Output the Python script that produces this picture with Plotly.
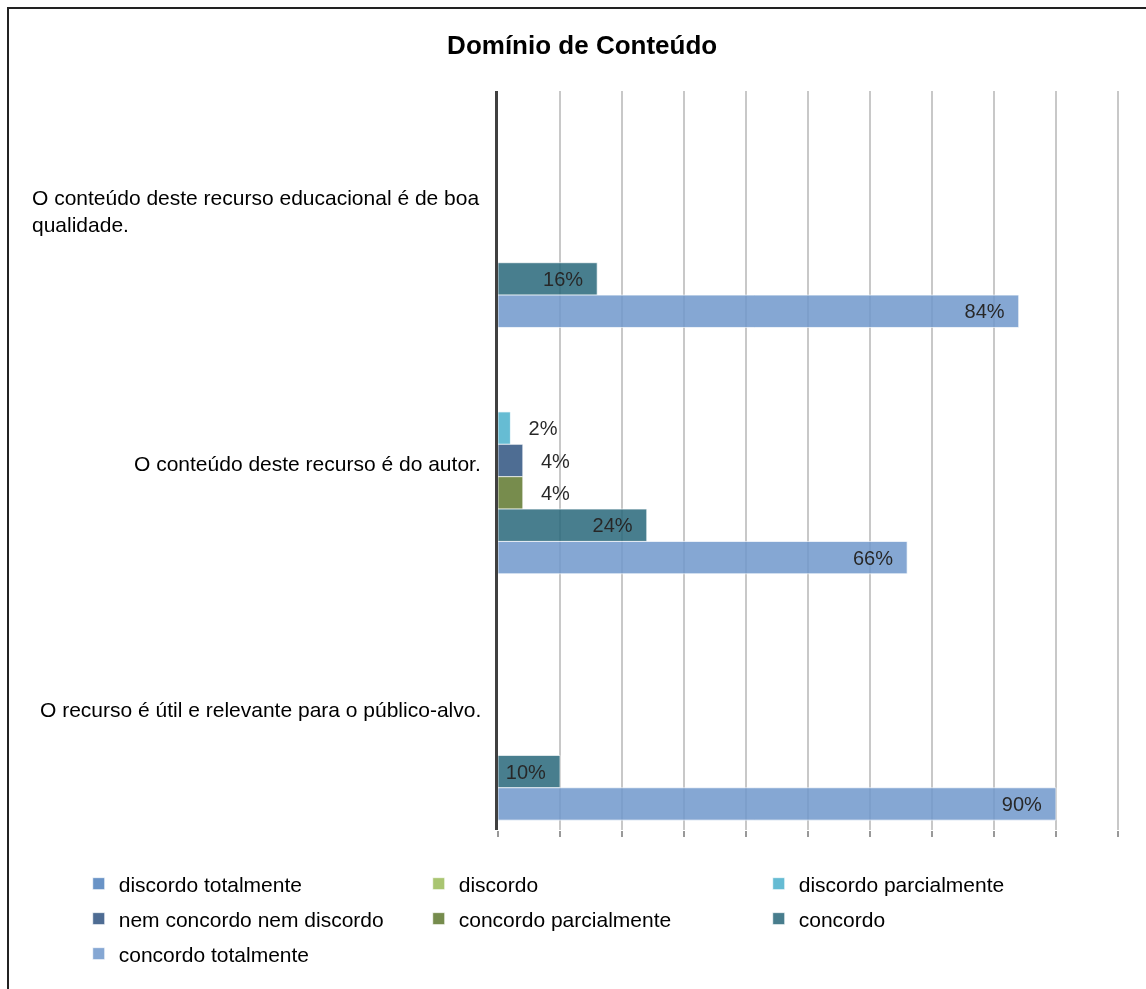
import plotly.graph_objects as go

# Survey statements (top to bottom) and response shares in percent
categories = [
    "O conteúdo deste recurso educacional é de boa qualidade.",
    "O conteúdo deste recurso é do autor.",
    "O recurso é útil e relevante para o público-alvo.",
]
category_labels = [
    "O conteúdo deste recurso educacional é de boa<br>qualidade.",
    "O conteúdo deste recurso é do autor.",
    "O recurso é útil e relevante para o público-alvo.",
]
series_names = [
    "discordo totalmente",
    "discordo",
    "discordo parcialmente",
    "nem concordo nem discordo",
    "concordo parcialmente",
    "concordo",
    "concordo totalmente",
]
discordo_totalmente = [0, 0, 0]
discordo = [0, 0, 0]
discordo_parcialmente = [0, 2, 0]
nem_concordo_nem_discordo = [0, 4, 0]
concordo_parcialmente = [0, 4, 0]
concordo = [16, 24, 10]
concordo_totalmente = [84, 66, 90]

series_values = [
    discordo_totalmente,
    discordo,
    discordo_parcialmente,
    nem_concordo_nem_discordo,
    concordo_parcialmente,
    concordo,
    concordo_totalmente,
]
colors = ["#4F81BD", "#9BBB59", "#4BB0CC", "#2F5380", "#5F782E", "#28677A", "#7098CC"]
legend_rows = ["legend", "legend", "legend", "legend2", "legend2", "legend2", "legend3"]

FONT = "Liberation Sans, Arial, sans-serif"
NB = "\u00a0"
fig = go.Figure()
for name, vals, col, lg in zip(series_names, series_values, colors, legend_rows):
    texts, positions = [], []
    for v in vals:
        if v == 0:
            texts.append("")
            positions.append("none")
        elif v >= 10:
            texts.append(f"{v}%" + NB * 2)
            positions.append("inside")
        else:
            texts.append(NB * 2 + "\u2009" + f"{v}%")
            positions.append("outside")
    fig.add_trace(go.Bar(
        name=name,
        y=categories,
        x=vals,
        orientation="h",
        marker=dict(color=col, line=dict(color="rgba(255,255,255,0.7)", width=1)),
        opacity=0.85,
        text=texts,
        textposition=positions,
        insidetextanchor="end",
        textfont=dict(color="#000000", size=20, family=FONT),
        cliponaxis=False,
        legend=lg,
        hoverinfo="skip",
    ))

for cat, lab in zip(categories, category_labels):
    multi = "<br>" in lab
    fig.add_annotation(
        x=0, xref="paper", y=cat, yref="y",
        text=lab, showarrow=False,
        xanchor="right", yanchor="middle",
        xshift=-17 if multi else -15,
        yshift=3 if multi else -3,
        align="left" if multi else "right",
        font=dict(size=21, color="#000000", family=FONT),
    )

# outer frame of the chart area
fig.add_shape(
    type="rect", xref="paper", yref="paper",
    x0=-0.7865, x1=1.2, y0=-0.3, y1=1.1123,
    line=dict(color="#222222", width=2), fillcolor="rgba(0,0,0,0)", layer="below",
)

legend_common = dict(
    orientation="h", xanchor="left", yanchor="middle",
    entrywidth=295, entrywidthmode="pixels",
    font=dict(size=21, color="#000000", family=FONT),
    bgcolor="rgba(0,0,0,0)", traceorder="normal",
)

fig.update_layout(
    width=1146, height=989,
    margin=dict(l=498, r=25, t=91, b=159),
    paper_bgcolor="white", plot_bgcolor="white",
    barmode="group", bargap=0.08, bargroupgap=0,
    title=dict(text="<b>Domínio de Conteúdo</b>", x=0.508, xanchor="center",
               y=0.955, yanchor="middle",
               font=dict(size=26, color="#000000", family=FONT)),
    xaxis=dict(range=[0, 100.5], dtick=10, showticklabels=False, showgrid=True,
               gridcolor="#C8C8C8", gridwidth=1.5, zeroline=False,
               ticks="outside", ticklen=6, tickcolor="#999999", tickwidth=1.5, showline=False),
    yaxis=dict(autorange="reversed", showticklabels=False, showgrid=False,
               showline=True, linecolor="#404040", linewidth=3, ticks="", zeroline=False),
    legend=dict(**legend_common, x=-0.673, y=-0.0731),
    legend2=dict(**legend_common, x=-0.673, y=-0.1204),
    legend3=dict(**legend_common, x=-0.673, y=-0.1678),
    showlegend=True,
)

fig.write_html("out.html")
